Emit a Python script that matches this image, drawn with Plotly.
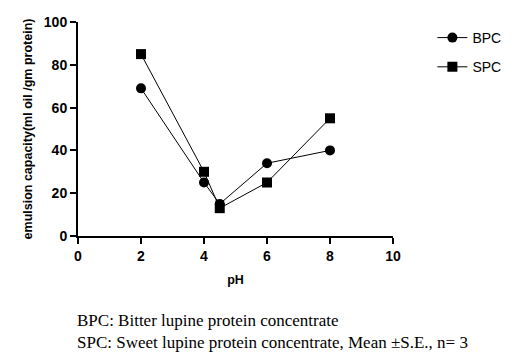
import plotly.graph_objects as go

ph = [2, 4, 4.5, 6, 8]
bpc = [69, 25, 15, 34, 40]
spc = [85, 30, 13, 25, 55]
x_ticks = [0, 2, 4, 6, 8, 10]
y_ticks = [0, 20, 40, 60, 80, 100]

fig = go.Figure()
fig.add_trace(go.Scatter(x=ph, y=bpc, name="BPC", mode="lines+markers",
                         line=dict(color="black", width=1),
                         marker=dict(symbol="circle", size=10, color="black"),
                         legendgroup="a", cliponaxis=False))
fig.add_trace(go.Scatter(x=ph, y=spc, name="SPC", mode="lines+markers",
                         line=dict(color="black", width=1),
                         marker=dict(symbol="square", size=10, color="black"),
                         legendgroup="b", cliponaxis=False))

axfont = dict(family="Liberation Sans, Arial", size=14, color="black", weight="bold")
fig.update_xaxes(range=[0, 10], tickvals=x_ticks, showline=True, linecolor="black", linewidth=2,
                 ticks="outside", ticklen=6, tickwidth=2, tickcolor="black", showgrid=False,
                 zeroline=False, tickfont=axfont, automargin=False,
                 title=dict(text="pH", font=dict(family="Liberation Sans, Arial", size=12.5, color="black", weight="bold"), standoff=12))
fig.update_yaxes(range=[0, 100], tickvals=y_ticks, showline=True, linecolor="black", linewidth=2,
                 ticks="outside", ticklen=6, tickwidth=2, tickcolor="black", showgrid=False,
                 zeroline=False, tickfont=axfont, automargin=False,
                 title=dict(text="emulsion capacity(ml oil /gm protein)",
                            font=dict(family="Liberation Sans, Arial", size=12.5, color="black", weight="bold"), standoff=8))

fig.add_annotation(text="BPC: Bitter lupine protein concentrate", xref="paper", yref="paper",
                   x=-0.01, y=-0.393, xanchor="left", yanchor="middle", showarrow=False,
                   font=dict(family="Liberation Serif, Times New Roman", size=17, color="black"))
fig.add_annotation(text="SPC: Sweet lupine protein concentrate, Mean ±S.E., n= 3", xref="paper", yref="paper",
                   x=-0.01, y=-0.496, xanchor="left", yanchor="middle", showarrow=False,
                   font=dict(family="Liberation Serif, Times New Roman", size=17, color="black"))

fig.update_layout(width=521, height=351, margin=dict(l=70, r=136, t=14, b=123, autoexpand=False),
                  plot_bgcolor="white", paper_bgcolor="white",
                  legend=dict(x=1.125, y=1.0, xanchor="left", yanchor="top", tracegroupgap=8,
                              font=dict(family="Liberation Sans, Arial", size=14, color="black")),
                  showlegend=True)
fig.write_html("out.html")
